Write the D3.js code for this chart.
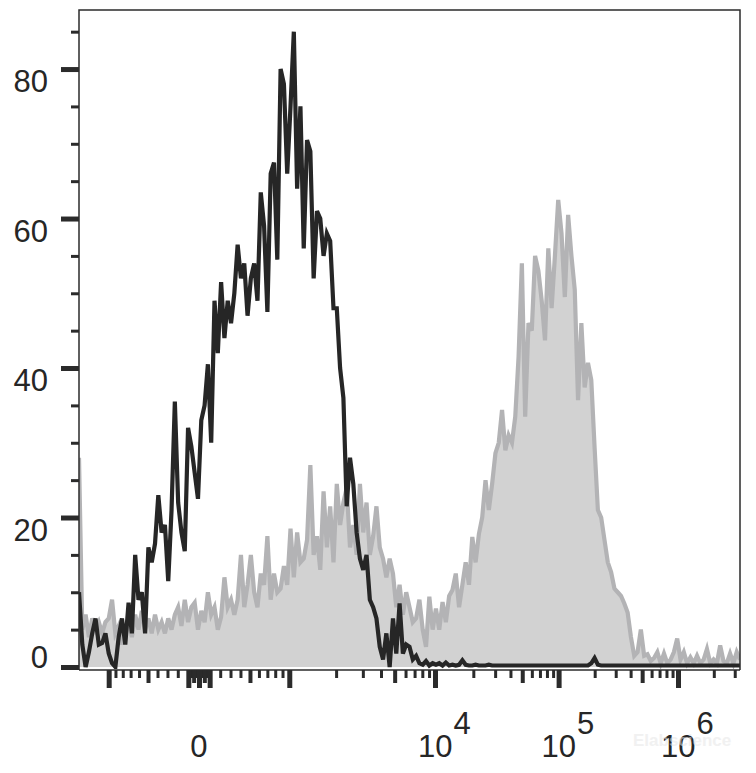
<!DOCTYPE html>
<html>
<head>
<meta charset="utf-8">
<script src="https://cdn.jsdelivr.net/npm/d3@7"></script>
<style>
  html, body { margin: 0; padding: 0; background: #ffffff; }
  svg { display: block; }
  text { font-family: "Liberation Sans", Arial, Helvetica, sans-serif; fill: #262626; }
</style>
</head>
<body>
<svg id="chart" width="756" height="773"></svg>
<script>
// ---------------- data ----------------
// histogram counts per display channel (0..200)
const blackCounts = [
  10, 3, 0, 2, 4.5, 6.5, 3, 3.2, 4.5, 1.8,
  0.5, 0, 4, 6.5, 3, 8.6, 4.5, 15, 9, 10,
  4.5, 16, 14, 16.5, 23, 18, 19, 11.5, 21, 35.5,
  22, 18, 15.5, 32, 29.5, 26, 22.5, 33, 35, 40.5,
  30, 49, 42, 51.5, 44, 49, 46, 50, 56.5, 52,
  54, 47, 52, 54, 49, 63.5, 59, 47.5, 66, 67.5,
  54.5, 80, 78, 66, 75, 85, 64, 75, 56, 70.5,
  69, 52, 61, 60, 55, 58, 57, 48, 48, 40,
  36, 21.5, 28, 24.5, 18, 14.5, 13, 15, 9, 8,
  6.5, 2.7, 1, 4.5, 0, 6.5, 1.8, 8.5, 1.8, 3,
  2.7, 1, 1.5, 0.5, 0.3, 0.8, 0.2, 0.5, 0.3, 0.5,
  0.2, 0.6, 0.2, 0.3, 0.2, 0.3, 0.9, 0.3, 0.2, 0.2,
  0.3, 0.2, 0.2, 0.2, 0.3, 0.2, 0.2, 0.2, 0.2, 0.2,
  0.2, 0.2, 0.2, 0.2, 0.2, 0.2, 0.2, 0.2, 0.2, 0.2,
  0.2, 0.2, 0.2, 0.2, 0.2, 0.2, 0.2, 0.2, 0.2, 0.2,
  0.2, 0.2, 0.2, 0.2, 0.2, 0.5, 1.2, 0.3, 0.2, 0.2,
  0.2, 0.2, 0.2, 0.2, 0.2, 0.2, 0.2, 0.2, 0.2, 0.2,
  0.2, 0.2, 0.2, 0.2, 0.2, 0.2, 0.2, 0.2, 0.2, 0.2,
  0.2, 0.2, 0.2, 0.2, 0.2, 0.2, 0.2, 0.2, 0.2, 0.2,
  0.2, 0.2, 0.2, 0.2, 0.2, 0.2, 0.2, 0.2, 0.2, 0.2,
  0.2
];
const grayCounts = [
  28, 5, 7, 4, 6.5, 5, 6, 4.5, 6, 6.5,
  9, 4.5, 5.5, 3, 5, 6, 4, 7, 5, 7.5,
  5, 6.5, 4.5, 7, 5, 6, 4.5, 6.5, 5, 7,
  8, 5.5, 9, 6, 8, 8.6, 5, 7.5, 6, 10,
  7, 8, 5, 6.7, 12, 8, 9, 7, 9, 15,
  8, 11, 15, 10, 8, 12.5, 11, 17.5, 9, 12.5,
  10, 10.5, 13.5, 11, 18.5, 12, 18, 14, 14.5, 17,
  27, 15, 17.5, 13, 23.5, 16, 21.5, 14, 24.5, 19,
  22, 24, 16, 19, 15, 24.5, 18, 22, 15, 17.5,
  21.5, 16, 14.5, 12, 14.5, 12.5, 8, 11, 7, 10,
  8, 6, 6.5, 9, 5, 2.7, 9.4, 5, 7.8, 5,
  8.7, 6, 9.5, 10.3, 12.5, 8, 11, 14, 11, 17.4,
  14, 17.8, 20, 25, 21, 24.5, 28.6, 30, 34.4, 29,
  31, 30, 33.5, 41.5, 54, 33.5, 46, 45, 55, 53,
  49, 43.7, 56, 48, 55, 62.5, 58, 49.5, 60.5, 55,
  50.5, 35.7, 46, 37.4, 40.7, 38.4, 29.4, 21, 20, 17,
  14, 12.7, 10.5, 10, 9.5, 8.5, 7.3, 4, 1.5, 2,
  5, 1.5, 1.7, 0.8, 1.2, 2, 0.5, 1.8, 0.5, 1,
  2, 3.8, 1, 2, 0.5, 1.3, 0.5, 1.5, 0.5, 1,
  2.4, 0.5, 1, 0.5, 2.9, 0.8, 0.5, 1.8, 0.5, 2,
  1
];
const N_CHANNELS = 200;

// axis definitions
const yMajorTicks = [0, 20, 40, 60, 80];
const yMinorTicks = [5, 10, 15, 25, 30, 35, 45, 50, 55, 65, 70, 75, 85];
const Y_MAX = 87.9;

const xLongTicks = [-1000, -100, 0, 100, 1000, 1e4, 1e5, 1e6];
const xMediumTicks = [-500, -50, 50, 500, 5000, 5e4, 5e5];
const xShortTicks = [
  -900, -800, -700, -600, -400, -300, -200,
  -90, -80, -70, -60, -40, -30, -20, -10,
  10, 20, 30, 40, 60, 70, 80, 90,
  200, 300, 400, 600, 700, 800, 900,
  2000, 3000, 4000, 6000, 7000, 8000, 9000,
  2e4, 3e4, 4e4, 6e4, 7e4, 8e4, 9e4,
  2e5, 3e5, 4e5, 6e5, 7e5, 8e5, 9e5,
  2e6, 3e6
];
const xZeroLabel = [0];
const xPowerLabels = [{ v: 1e4, exp: "4" }, { v: 1e5, exp: "5" }, { v: 1e6, exp: "6" }];
const X_MIN = -1554, X_MAX = 3.3217e6;
// biexponential (logicle-like) transform parameters
const BIEX_T0 = 92.9, BIEX_P = 4.2;

// ---------------- layout ----------------
const plot = { left: 79, right: 740, top: 10, bottom: 667 };
const axisLineY = 670;

const svg = d3.select("#chart");

// biexponential display transform
function biex(d) {
  const a = Math.abs(d), p = BIEX_P;
  const v = BIEX_T0 * (Math.exp(a) - p * p * Math.exp(-a / p) + p * p - 1);
  return d < 0 ? -v : v;
}
function biexInverse(v) {
  let lo = -40, hi = 40;
  for (let i = 0; i < 100; i++) {
    const mid = (lo + hi) / 2;
    if (biex(mid) < v) lo = mid; else hi = mid;
  }
  return (lo + hi) / 2;
}
const xDisplay = d3.scaleLinear()
  .domain([biexInverse(X_MIN), biexInverse(X_MAX)])
  .range([plot.left, plot.right]);
const x = v => xDisplay(biexInverse(v));
x.copy = () => x;
x.range = () => xDisplay.range();
x.domain = () => [X_MIN, X_MAX];

const xChannel = d3.scaleLinear().domain([0, N_CHANNELS]).range([plot.left, plot.right]);
const y = d3.scaleLinear().domain([0, Y_MAX]).range([plot.bottom, plot.top]);

// clip
svg.append("defs").append("clipPath").attr("id", "clip")
  .append("rect")
  .attr("x", plot.left).attr("y", plot.top - 1)
  .attr("width", plot.right - plot.left).attr("height", axisLineY - plot.top);

const g = svg.append("g").attr("clip-path", "url(#clip)");

// gray filled histogram
const grayArea = d3.area()
  .x((d, i) => xChannel(i))
  .y0(y(0))
  .y1(d => y(d));
const grayLine = d3.line()
  .x((d, i) => xChannel(i))
  .y(d => y(d));

g.append("path").datum(grayCounts)
  .attr("d", grayArea)
  .attr("fill", "#d2d2d2");
g.append("path").datum(grayCounts)
  .attr("d", grayLine)
  .attr("fill", "none")
  .attr("stroke", "#b3b3b5")
  .attr("stroke-width", 4.2);

// black line histogram
const blackLine = d3.line()
  .x((d, i) => xChannel(i))
  .y(d => y(d));
g.append("path").datum(blackCounts)
  .attr("d", blackLine)
  .attr("fill", "none")
  .attr("stroke", "#262626")
  .attr("stroke-width", 4.2)
  .attr("stroke-linejoin", "miter");

// frame
const frameColor = "#2b2b2b";
svg.append("path")
  .attr("d", `M${plot.left},${axisLineY}V${plot.top}H${plot.right}V${axisLineY}`)
  .attr("fill", "none").attr("stroke", frameColor).attr("stroke-width", 1.5);
svg.append("line")
  .attr("x1", plot.left).attr("x2", plot.right)
  .attr("y1", axisLineY).attr("y2", axisLineY)
  .attr("stroke", frameColor).attr("stroke-width", 1.5);

// y axis ticks
function styleAxis(sel, width) {
  sel.select(".domain").remove();
  sel.selectAll(".tick line").attr("stroke", frameColor).attr("stroke-width", width);
  sel.selectAll(".tick text").remove();
}
svg.append("g").attr("transform", `translate(${plot.left},0)`)
  .call(d3.axisLeft(y).tickValues(yMinorTicks).tickSize(8).tickSizeOuter(0).tickFormat(""))
  .call(s => styleAxis(s, 3));
svg.append("g").attr("transform", `translate(${plot.left},0)`)
  .call(d3.axisLeft(y).tickValues(yMajorTicks).tickSize(18).tickSizeOuter(0).tickFormat(""))
  .call(s => styleAxis(s, 5));

// y labels
svg.append("g").selectAll("text").data(yMajorTicks).join("text")
  .attr("x", 48)
  .attr("y", d => d === 0 ? y(d) + 1 : y(d) + 23)
  .attr("text-anchor", "end")
  .style("font-size", "31px")
  .text(d => d);

// x axis ticks
const inDomain = v => v >= X_MIN && v <= X_MAX;
svg.append("g").attr("transform", `translate(0,${axisLineY})`)
  .call(d3.axisBottom(x).tickValues(xShortTicks.filter(inDomain)).tickSize(8).tickSizeOuter(0).tickFormat(""))
  .call(s => styleAxis(s, 3));
svg.append("g").attr("transform", `translate(0,${axisLineY})`)
  .call(d3.axisBottom(x).tickValues(xMediumTicks.filter(inDomain)).tickSize(13).tickSizeOuter(0).tickFormat(""))
  .call(s => styleAxis(s, 4));
svg.append("g").attr("transform", `translate(0,${axisLineY})`)
  .call(d3.axisBottom(x).tickValues(xLongTicks.filter(inDomain)).tickSize(18).tickSizeOuter(0).tickFormat(""))
  .call(s => styleAxis(s, 5));

// x labels
svg.append("g").selectAll("text").data(xZeroLabel).join("text")
  .attr("x", d => x(d))
  .attr("y", 757)
  .attr("text-anchor", "middle")
  .style("font-size", "31px")
  .text(d => d);

const pw = svg.append("g").selectAll("text").data(xPowerLabels).join("text")
  .attr("x", d => x(d.v) - 17)
  .attr("y", 757)
  .style("font-size", "31px");
pw.append("tspan").text("10");
pw.append("tspan").attr("dx", 1).attr("dy", -23).text(d => d.exp);

// faint watermark
svg.append("text")
  .attr("x", 633).attr("y", 746)
  .style("font-size", "17px")
  .style("font-weight", "bold")
  .style("fill", "#e6e6e6")
  .style("opacity", 0.55)
  .text("Elabscience");
</script>
</body>
</html>
